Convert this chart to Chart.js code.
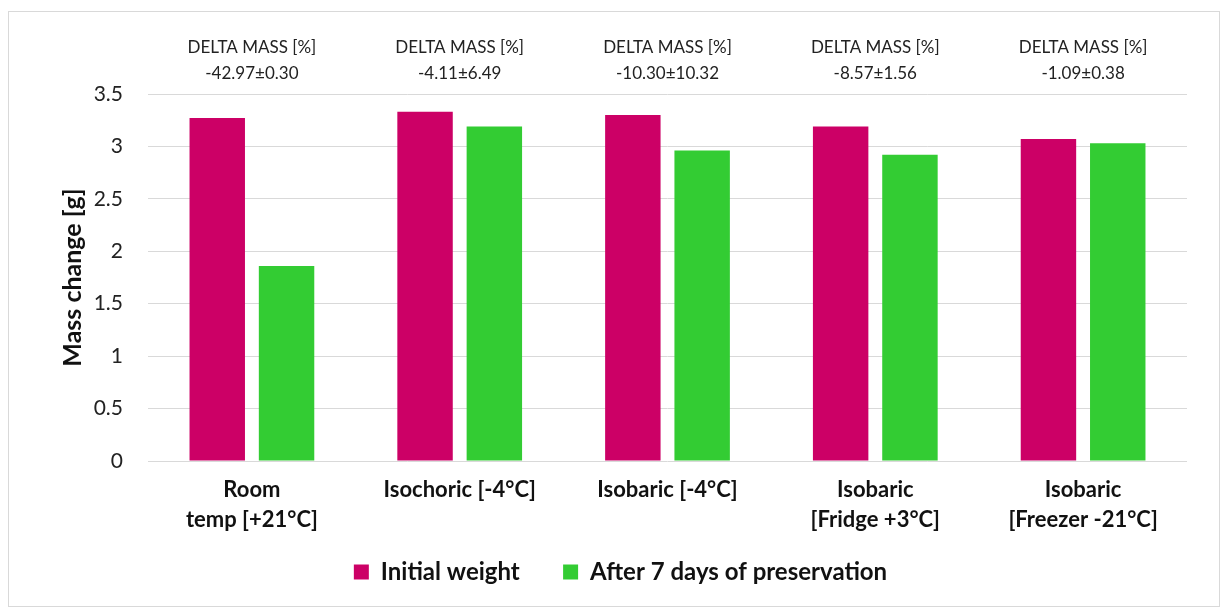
<!DOCTYPE html>
<html>
<head>
<meta charset="utf-8">
<script src="https://cdn.jsdelivr.net/npm/chart.js@4.4.1/dist/chart.umd.min.js"></script>
<style>
  html, body { margin: 0; padding: 0; background: #fff; }
  #box {
    position: absolute; left: 8px; top: 11px;
    width: 1210px; height: 594px;
    border: 1px solid #d9d9d9;
  }
</style>
</head>
<body>
<div id="box"><canvas id="massChart" width="1210" height="594"></canvas></div>
<script>
const categories = [
    ['Room', 'temp [+21°C]'],
    'Isochoric [-4°C]',
    'Isobaric [-4°C]',
    ['Isobaric', '[Fridge +3°C]'],
    ['Isobaric', '[Freezer -21°C]']
];
const initialWeight = [3.27, 3.33, 3.30, 3.19, 3.07];
const afterPreservation = [1.86, 3.19, 2.96, 2.92, 3.03];
const deltaMass = ['-42.97±0.30', '-4.11±6.49', '-10.30±10.32', '-8.57±1.56', '-1.09±0.38'];
const yTicks = [0, 0.5, 1, 1.5, 2, 2.5, 3, 3.5];

const FONT = 'Lato, "Open Sans", sans-serif';

// text above every group
const deltaLabels = {
    id: 'deltaLabels',
    afterDraw(chart) {
        const ctx = chart.ctx;
        const x = chart.scales.x;
        ctx.save();
        ctx.fillStyle = '#222';
        ctx.font = '17px ' + FONT;
        ctx.textAlign = 'center';
        ctx.textBaseline = 'middle';
        deltaMass.forEach((v, i) => {
            const px = x.getPixelForValue(i);
            ctx.fillText('DELTA MASS [%]', px, 36);
            ctx.fillText(v, px, 62);
        });
        ctx.restore();
    }
};

new Chart(document.getElementById('massChart').getContext('2d'), {
    type: 'bar',
    data: {
        labels: categories,
        datasets: [{
            label: 'Initial weight',
            data: initialWeight,
            backgroundColor: '#cc0066',
            barPercentage: 0.8,
            categoryPercentage: 0.667
        }, {
            label: 'After 7 days of preservation',
            data: afterPreservation,
            backgroundColor: '#33cc33',
            barPercentage: 0.8,
            categoryPercentage: 0.667
        }]
    },
    options: {
        responsive: false,
        animation: false,
        layout: { padding: { top: 82, left: 45, right: 32, bottom: 12 } },
        plugins: {
            tooltip: { enabled: false },
            legend: {
                position: 'bottom',
                labels: {
                    color: '#111',
                    font: { family: FONT, size: 24, weight: 'bold' },
                    boxWidth: 15,
                    boxHeight: 15,
                    padding: 20,
                    generateLabels(chart) {
                        const items = Chart.defaults.plugins.legend.labels.generateLabels(chart);
                        // a little more room between the two entries
                        items[0].text += '    ';
                        return items;
                    }
                }
            }
        },
        scales: {
            x: {
                grid: { display: false },
                border: { display: false },
                ticks: {
                    color: '#111',
                    padding: 6,
                    maxRotation: 0,
                    autoSkip: false,
                    font: { family: FONT, size: 22, weight: 'bold', lineHeight: 1.36 }
                },
                afterFit(scale) { scale.height = 79; }
            },
            y: {
                min: 0,
                max: 3.5,
                grid: { color: '#d9d9d9', drawTicks: false },
                border: { display: false },
                afterBuildTicks(scale) { scale.ticks = yTicks.map(v => ({ value: v })); },
                ticks: {
                    color: '#222',
                    padding: 25,
                    font: { family: FONT, size: 21 },
                    callback: v => String(v)
                },
                title: {
                    display: true,
                    text: 'Mass change [g]',
                    color: '#111',
                    padding: { top: 4, bottom: 0 },
                    font: { family: FONT, size: 25, weight: 'bold' }
                },
                afterFit(scale) { scale.width = 94; }
            }
        }
    },
    plugins: [deltaLabels]
});
</script>
</body>
</html>
